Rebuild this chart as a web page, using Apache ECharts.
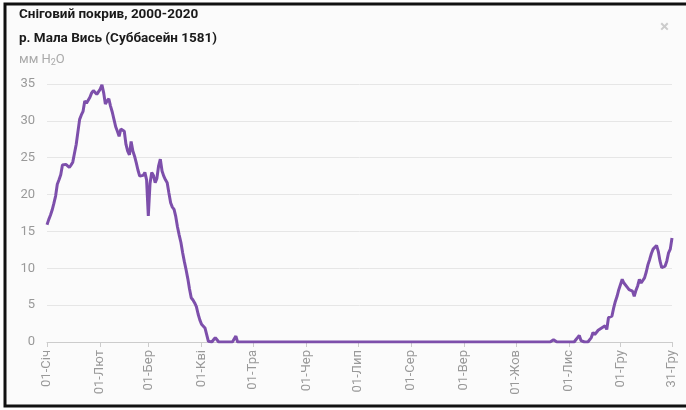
<!DOCTYPE html>
<html>
<head>
<meta charset="utf-8">
<script src="https://cdn.jsdelivr.net/npm/echarts@6/dist/echarts.min.js"></script>
<style>
html,body{margin:0;padding:0;background:#fff;}
#chart{width:686px;height:410px;}
</style>
</head>
<body>
<div id="chart"></div>
<script>
// Month abbreviations and lengths (non-leap year) used to build day categories
const monthNames = ['Січ','Лют','Бер','Кві','Тра','Чер','Лип','Сер','Вер','Жов','Лис','Гру'];
const monthDays = [31,28,31,30,31,30,31,31,30,31,30,31];
// Indices of the days that carry a tick label
const labelDays = [0,31,59,90,120,151,181,212,243,273,304,334,364];
// Y axis ticks
const yTicks = [0,5,10,15,20,25,30,35];

// Daily snow water equivalent, mm H2O (Jan 1 .. Dec 31)
const janFeb = [
15.9,16.6,17.2,17.9,18.8,19.8,21.4,22.0,22.7,24.0,24.2,24.1,23.9,23.7,24.0,24.4,25.6,26.8,28.5,30.2,
30.8,31.3,32.7,32.4,32.5,33.2,33.8,34.1,34.0,33.6,33.5,
34.3,34.9,33.8,32.3,32.7,33.0,32.0,31.2,30.2,29.2,28.6,27.9,28.9,28.7,28.6,26.8,25.9,25.4,27.2,
25.9,25.2,24.3,23.3,22.5,22.3,22.6,23.0,22.0
];
const marApr = [
17.1,21.5,23.0,22.6,21.6,22.2,23.9,24.8,23.2,22.5,22.0,21.6,20.2,18.9,18.3,18.0,17.0,15.6,14.5,13.5,
12.1,10.9,9.8,8.6,7.2,6.0,5.7,5.3,4.8,3.8,3.0,
2.4,2.5,1.9,1.0,0.1,0.2,0.0,0.3,0.6,0.3,0.0,0,0,0,0,0,0,0,0,0,0.8,0,0,0,0,0,0,0,0,0
];
const mayOct = [
0,0,0,0,0,0,0,0,0,0,0,0,0,0,0,0,0,0,0,0,0,0,0,0,0,0,0,0,0,0,0,
0,0,0,0,0,0,0,0,0,0,0,0,0,0,0,0,0,0,0,0,0,0,0,0,0,0,0,0,0,0,
0,0,0,0,0,0,0,0,0,0,0,0,0,0,0,0,0,0,0,0,0,0,0,0,0,0,0,0,0,0,0,
0,0,0,0,0,0,0,0,0,0,0,0,0,0,0,0,0,0,0,0,0,0,0,0,0,0,0,0,0,0,0,
0,0,0,0,0,0,0,0,0,0,0,0,0,0,0,0,0,0,0,0,0,0,0,0,0,0,0,0,0,0,
0,0,0,0,0,0,0,0,0,0,0,0,0,0,0,0,0,0,0,0,0,0,0.3,0.3,0,0,0,0,0,0,0
];
const novDec = [
0,0,0,0,0.3,0.6,0.9,0.2,0,0,0,0,0,0.6,1.3,1.0,1.0,1.6,1.8,1.9,2.0,2.2,1.7,3.3,3.4,3.5,4.6,5.5,6.2,7.1,
7.8,8.5,8.0,7.8,7.4,7.1,7.0,6.9,6.2,7.0,7.6,8.5,8.0,8.2,8.7,9.5,10.5,11.2,12.0,12.6,12.8,13.1,12.3,11.0,10.1,10.2,10.3,11.0,12.1,12.6,14.1
];
const snowValues = [].concat(janFeb, marApr, mayOct, novDec);

const days = [];
monthNames.forEach((m, i) => {
  for (let d = 1; d <= monthDays[i]; d++) {
    days.push((d < 10 ? '0' + d : '' + d) + '-' + m);
  }
});

const chart = echarts.init(document.getElementById('chart'));
const font = 'Roboto, "Noto Sans", sans-serif';
chart.setOption({
  backgroundColor: '#ffffff',
  animation: false,
  textStyle: { fontFamily: font },
  graphic: [
    { type: 'rect', z: -10, shape: { x: 5, y: 4, width: 720, height: 402 },
      style: { fill: '#fbfbfb', stroke: '#111', lineWidth: 3 } },
    { type: 'text', left: 19, top: 8, style: { text: 'Сніговий покрив, 2000-2020', fill: '#1a1a1a', font: 'bold 13.5px ' + font } },
    { type: 'text', left: 19, top: 32, style: { text: 'р. Мала Вись (Суббасейн 1581)', fill: '#1a1a1a', font: 'bold 13.5px ' + font } },
    { type: 'text', left: 19, top: 53, style: {
        text: 'мм H{s|2}O', fill: '#aaaaaa', font: '13px ' + font,
        rich: { s: { fontSize: 9, fill: '#aaaaaa', verticalAlign: 'bottom', padding: [6, 0, 0, 0], fontFamily: font } } } },
    { type: 'text', left: 660, top: 19, style: { text: '×', fill: '#cccccc', font: 'bold 17px ' + font } }
  ],
  grid: { left: 47, right: 14, top: 84, bottom: 68 },
  xAxis: {
    type: 'category',
    data: days,
    boundaryGap: false,
    axisLine: { lineStyle: { color: '#cccccc' } },
    axisTick: { show: true, length: 5, lineStyle: { color: '#cccccc' }, interval: (i) => labelDays.includes(i) },
    axisLabel: { rotate: 90, color: '#999999', fontSize: 13, margin: 8, interval: (i) => labelDays.includes(i) },
    splitLine: { show: false }
  },
  yAxis: {
    type: 'value',
    min: yTicks[0], max: yTicks[yTicks.length - 1], interval: 5,
    axisLine: { show: false },
    axisTick: { show: false },
    axisLabel: { color: '#999999', fontSize: 13, margin: 12 },
    splitLine: { lineStyle: { color: '#e6e6e6' } }
  },
  series: [{
    type: 'line',
    data: snowValues,
    showSymbol: false,
    symbol: 'none',
    lineStyle: { color: '#7d4fab', width: 3 },
    itemStyle: { color: '#7d4fab' }
  }]
});
</script>
</body>
</html>
